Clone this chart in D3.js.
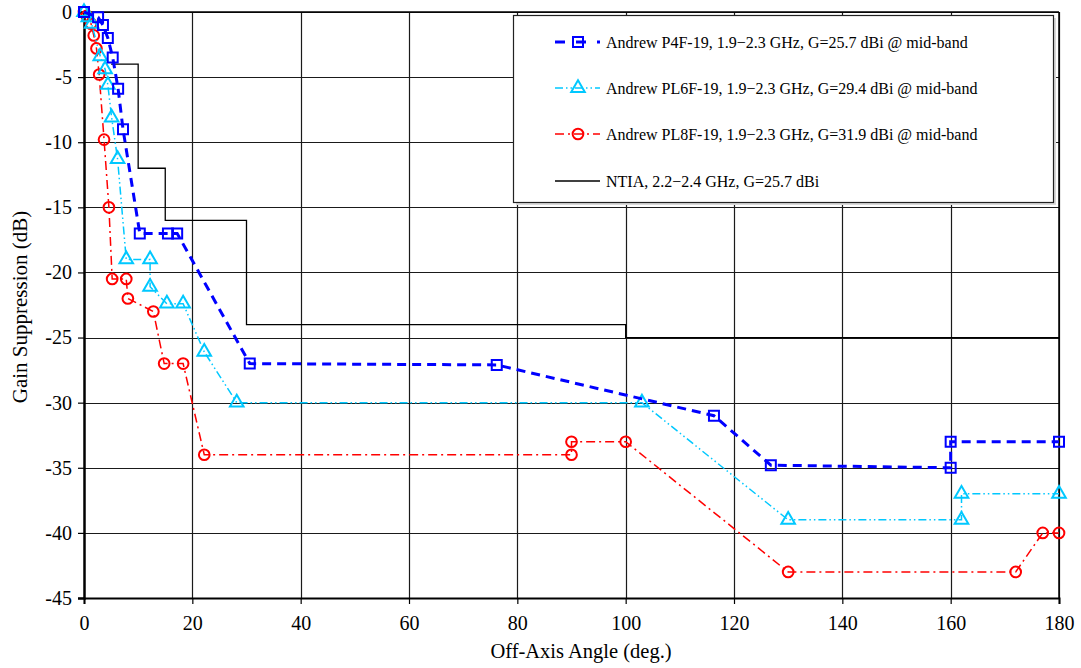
<!DOCTYPE html>
<html>
<head>
<meta charset="utf-8">
<script src="https://cdn.jsdelivr.net/npm/d3@7"></script>
<style>
  html, body { margin: 0; padding: 0; background: #fff; }
  svg { display: block; }
</style>
</head>
<body>
<svg id="chart" width="1081" height="668"></svg>
<script>
// ---- Data ----
const xTicks = [0, 20, 40, 60, 80, 100, 120, 140, 160, 180];
const yTicks = [0, -5, -10, -15, -20, -25, -30, -35, -40, -45];

const p4fAngle = [0, 2.6, 3.5, 4.4, 5.3, 6.3, 7.2, 10.3, 15.5, 17.2, 30.6, 76.2, 116.3, 126.8, 160, 160, 180];
const p4fGain  = [0, -0.4, -1, -2, -3.5, -5.9, -9, -17, -17, -17, -27, -27.1, -31, -34.8, -35, -33, -33];

const pl6fAngle = [0, 0.8, 1.4, 3.0, 3.9, 4.4, 5.1, 6.2, 7.8, 12.2, 12.2, 15.3, 18.3, 22.2, 28.2, 103, 130, 162, 162, 180];
const pl6fGain  = [0, -0.4, -0.9, -3.4, -4.4, -5.6, -8.1, -11.3, -19, -19, -21.1, -22.4, -22.4, -26.1, -30, -30, -39, -39, -37, -37];

const pl8fAngle = [0, 0.5, 1.3, 1.8, 2.3, 2.8, 3.7, 4.6, 5.2, 7.8, 8.1, 12.8, 14.8, 18.3, 22.2, 90, 90, 100, 130, 172, 177, 180];
const pl8fGain  = [0, -0.3, -0.9, -1.8, -2.8, -4.8, -9.8, -15, -20.5, -20.5, -22, -23, -27, -27, -34, -34, -33, -33, -43, -43, -40, -40];

const ntiaAngle = [5, 10, 10, 15, 15, 30, 30, 100, 100, 180];
const ntiaGain  = [-4, -4, -12, -12, -16, -16, -24, -24, -25, -25];

const seriesNames = [
  "Andrew P4F-19, 1.9\u22122.3 GHz, G=25.7 dBi @ mid-band",
  "Andrew PL6F-19, 1.9\u22122.3 GHz, G=29.4 dBi @ mid-band",
  "Andrew PL8F-19, 1.9\u22122.3 GHz, G=31.9 dBi @ mid-band",
  "NTIA, 2.2\u22122.4 GHz, G=25.7 dBi"
];
const xTitle = "Off-Axis Angle (deg.)";
const yTitle = "Gain Suppression (dB)";

const FONT = "'Liberation Serif', 'Times New Roman', Times, 'DejaVu Serif', serif";

// ---- Layout ----
const svg = d3.select("#chart");
const L = 84, R = 1059, T = 12, B = 598;
const x = d3.scaleLinear().domain([0, 180]).range([L, R]);
const y = d3.scaleLinear().domain([-45, 0]).range([B, T]);

const zip = (a, b) => a.map((v, i) => [v, b[i]]);

const series = [
  { name: seriesNames[0], data: zip(p4fAngle, p4fGain), color: "#0000ff", width: 3, dash: "9,6", marker: "square" },
  { name: seriesNames[1], data: zip(pl6fAngle, pl6fGain), color: "#00c8ff", width: 1.5, dash: "8,3,1.5,3,1.5,3", marker: "triangle" },
  { name: seriesNames[2], data: zip(pl8fAngle, pl8fGain), color: "#ff0000", width: 1.5, dash: "9,4,2,4", marker: "circle" },
  { name: seriesNames[3], data: zip(ntiaAngle, ntiaGain), color: "#000000", width: 1.3, dash: null, marker: null }
];

// ---- Grid ----
const grid = svg.append("g");
grid.selectAll("line.vx").data(xTicks.filter(d => d > 0)).join("line")
  .attr("x1", d => Math.round(x(d)) + 0.5).attr("x2", d => Math.round(x(d)) + 0.5)
  .attr("y1", T).attr("y2", B)
  .attr("stroke", "#1a1a1a").attr("stroke-width", 1.2);
grid.selectAll("line.hy").data(yTicks.filter(d => d > -45)).join("line")
  .attr("y1", d => Math.round(y(d)) + 0.5).attr("y2", d => Math.round(y(d)) + 0.5)
  .attr("x1", L).attr("x2", R)
  .attr("stroke", "#1a1a1a").attr("stroke-width", 1.2);

// ---- Axes ----
const xAxis = svg.append("g").attr("transform", `translate(0,${B})`)
  .call(d3.axisBottom(x).tickValues(xTicks).tickSize(6).tickPadding(12).tickFormat(d3.format("d")));
xAxis.select(".domain").attr("stroke", "#000").attr("stroke-width", 2);
xAxis.selectAll(".tick line").attr("stroke", "#000").attr("stroke-width", 1.2);
xAxis.selectAll(".tick text").style("font-size", "20px").style("font-family", FONT).attr("fill", "#000");

const yAxis = svg.append("g").attr("transform", `translate(${L},0)`)
  .call(d3.axisLeft(y).tickValues(yTicks).tickSize(6).tickPadding(6).tickFormat(d => d === 0 ? "0" : "-" + Math.abs(d)));
yAxis.select(".domain").attr("stroke", "#000").attr("stroke-width", 2.5);
yAxis.selectAll(".tick line").attr("stroke", "#000").attr("stroke-width", 1.2);
yAxis.selectAll(".tick text").style("font-size", "20px").style("font-family", FONT).attr("fill", "#000");

// Top and right frame
svg.append("line").attr("x1", L).attr("x2", R).attr("y1", T).attr("y2", T).attr("stroke", "#000").attr("stroke-width", 1.5);
svg.append("line").attr("x1", R).attr("x2", R).attr("y1", T).attr("y2", B).attr("stroke", "#000").attr("stroke-width", 1.5);

// ---- Legend box ----
const lg = svg.append("g");
lg.append("rect").attr("x", 516).attr("y", 18).attr("width", 540).attr("height", 187).attr("fill", "#d9d9d9");
lg.append("rect").attr("x", 513.5).attr("y", 15.5).attr("width", 540).attr("height", 187)
  .attr("fill", "#fff").attr("stroke", "#222").attr("stroke-width", 1.2);

// ---- Series ----
const line = d3.line().x(d => x(d[0])).y(d => y(d[1]));
const symType = { square: d3.symbolSquare, triangle: d3.symbolTriangle, circle: d3.symbolCircle };
const symSize = { square: 100, triangle: 80, circle: 90 };

function drawMarker(g, type, color, px, py) {
  g.append("path")
    .attr("d", d3.symbol().type(symType[type]).size(symSize[type])())
    .attr("transform", `translate(${px},${py})`)
    .attr("fill", "none").attr("stroke", color).attr("stroke-width", 2);
}

[3, 2, 1, 0].forEach(i => {
  const s = series[i];
  const g = svg.append("g");
  g.append("path").datum(s.data).attr("d", line)
    .attr("fill", "none").attr("stroke", s.color).attr("stroke-width", s.width)
    .attr("stroke-dasharray", s.dash);
  if (s.marker) {
    s.data.forEach(d => drawMarker(g, s.marker, s.color, x(d[0]), y(d[1])));
  }
});

// ---- Legend entries ----
const legY = [42, 88, 134, 181];
series.forEach((s, i) => {
  const g = lg.append("g");
  const yy = legY[i];
  g.append("line").attr("x1", 555).attr("x2", 600).attr("y1", yy).attr("y2", yy)
    .attr("stroke", s.color).attr("stroke-width", s.width)
    .attr("stroke-dasharray", s.dash ? (i === 0 ? "10,11" : s.dash) : null);
  if (s.marker) drawMarker(g, s.marker, s.color, 578, yy);
  g.append("text").attr("x", 606).attr("y", yy + 5.5)
    .style("font-family", FONT).style("font-size", "16px").attr("fill", "#000").text(s.name);
});

// ---- Titles ----
svg.append("text").attr("x", 581).attr("y", 658).attr("text-anchor", "middle")
  .style("font-family", FONT).style("font-size", "20.5px").attr("fill", "#000").text(xTitle);
svg.append("text").attr("transform", "translate(27,307) rotate(-90)").attr("text-anchor", "middle")
  .style("font-family", FONT).style("font-size", "21px").attr("fill", "#000").text(yTitle);
</script>
</body>
</html>
